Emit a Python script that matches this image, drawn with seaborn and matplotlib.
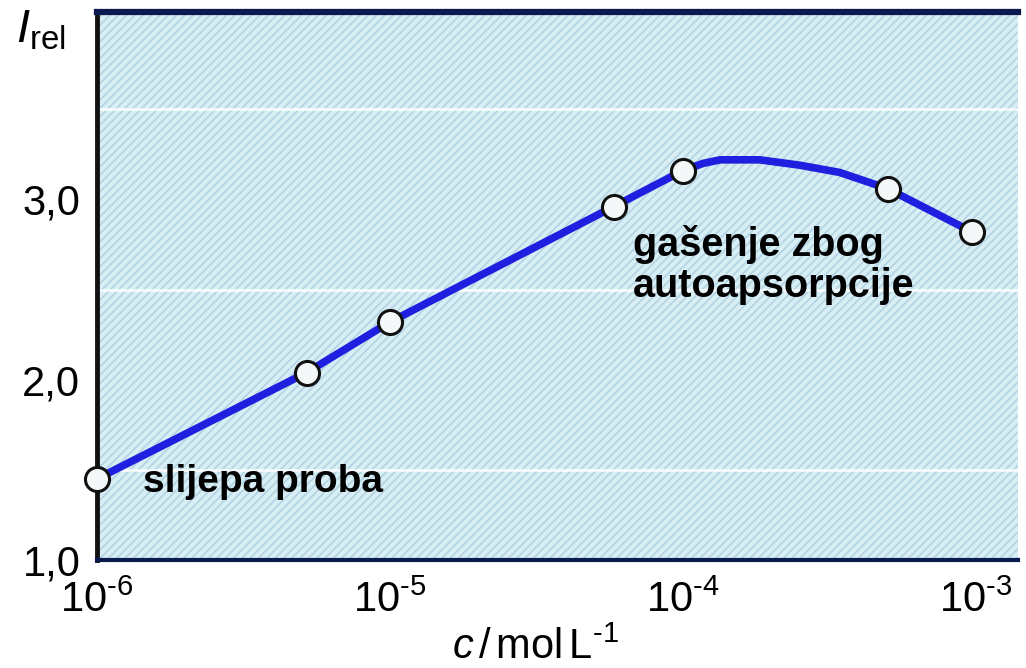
import numpy as np
import pandas as pd
import seaborn as sns
import matplotlib.pyplot as plt
from matplotlib.patches import Rectangle

sns.set_theme(style="white")
plt.rcParams["font.family"] = ["Liberation Sans", "DejaVu Sans"]
plt.rcParams["mathtext.fontset"] = "custom"
plt.rcParams["mathtext.rm"] = "Liberation Sans"
plt.rcParams["mathtext.it"] = "Liberation Sans:italic"
plt.rcParams["hatch.linewidth"] = 1.2
plt.rcParams["text.color"] = "black"

meas_c = [1e-6, 5.2e-6, 1e-5, 5.8e-5, 1e-4, 5e-4, 9.7e-4]
meas_i = [1.45, 2.04, 2.32, 2.96, 3.16, 3.06, 2.82]

# extra points along the drawn curve near the maximum
curve_extra_c = [1.17e-4, 1.34e-4, 1.83e-4, 2.51e-4, 3.43e-4]
curve_extra_i = [3.20, 3.22, 3.22, 3.19, 3.15]

xticks = [1e-6, 1e-5, 1e-4, 1e-3]
xtick_labels = [r"10$^{\mathrm{‐6}}$", r"10$^{\mathrm{‐5}}$",
                r"10$^{\mathrm{‐4}}$", r"10$^{\mathrm{‐3}}$"]
yticks = [1.0, 2.0, 3.0]
ytick_labels = ["1,0", "2,0", "3,0"]
grid_y = [1.5, 2.5, 3.5]

points = pd.DataFrame({"c": meas_c, "I": meas_i})
curve = pd.DataFrame({"c": meas_c + curve_extra_c,
                      "I": meas_i + curve_extra_i}).sort_values("c")

fig = plt.figure(figsize=(10.26, 6.68), dpi=100)
ax = fig.add_axes([0.0945, 0.1617, 0.8975, 0.8203])
ax.set_xscale("log")
ax.set_facecolor("#d8eef5")
ax.add_patch(Rectangle((0, 0), 1, 1, transform=ax.transAxes, facecolor="none",
                       hatch="////", edgecolor="#b3d3e4", lw=0, zorder=0))
for g in grid_y:
    ax.axhline(g, color="white", lw=2, alpha=0.8, zorder=1)

sns.lineplot(data=curve, x="c", y="I", ax=ax, color="#1f1fe0", lw=5.5,
             sort=True, zorder=3, clip_on=False)
sns.scatterplot(data=points, x="c", y="I", ax=ax, s=300, color="#f4f8f8",
                edgecolor="#111111", linewidth=2.2, zorder=4, clip_on=False)

ax.set_xlim(1e-6, 1.39e-3)
ax.set_ylim(1.0, 4.04)
ax.set_xticks(xticks)
ax.set_xticklabels(xtick_labels)
ax.minorticks_off()
ax.set_yticks(yticks)
ax.set_yticklabels(ytick_labels)
ax.tick_params(axis="both", length=0, labelsize=30, colors="black")
ax.tick_params(axis="x", pad=15)
ax.tick_params(axis="y", pad=12)
ax.set_xlabel("")
ax.set_ylabel("")

ax.spines["right"].set_visible(False)
ax.spines["top"].set_color("#0b1a4e")
ax.spines["top"].set_linewidth(4.5)
ax.spines["left"].set_color("#111111")
ax.spines["left"].set_linewidth(3.5)
ax.spines["bottom"].set_color("#0b1a4e")
ax.spines["bottom"].set_linewidth(3)

ax.text(0.050, 0.142, "slijepa proba", transform=ax.transAxes, color="black",
        fontsize=28, fontweight="bold", va="center", ha="left", zorder=5)
ax.text(0.582, 0.612, "gašenje zbog\nautoapsorpcije", transform=ax.transAxes,
        color="black", fontsize=28.5, fontweight="bold", va="top", ha="left",
        linespacing=1.12, zorder=5)

fig.text(0.016, 0.922, r"$I_{\mathrm{rel}}$", fontsize=34, ha="left", va="bottom")
fig.text(0.522, 0.014, r"$c\,/\,\mathrm{mol\,L^{‐1}}$", fontsize=30,
         ha="center", va="baseline")

plt.savefig("out.png", dpi=100)
